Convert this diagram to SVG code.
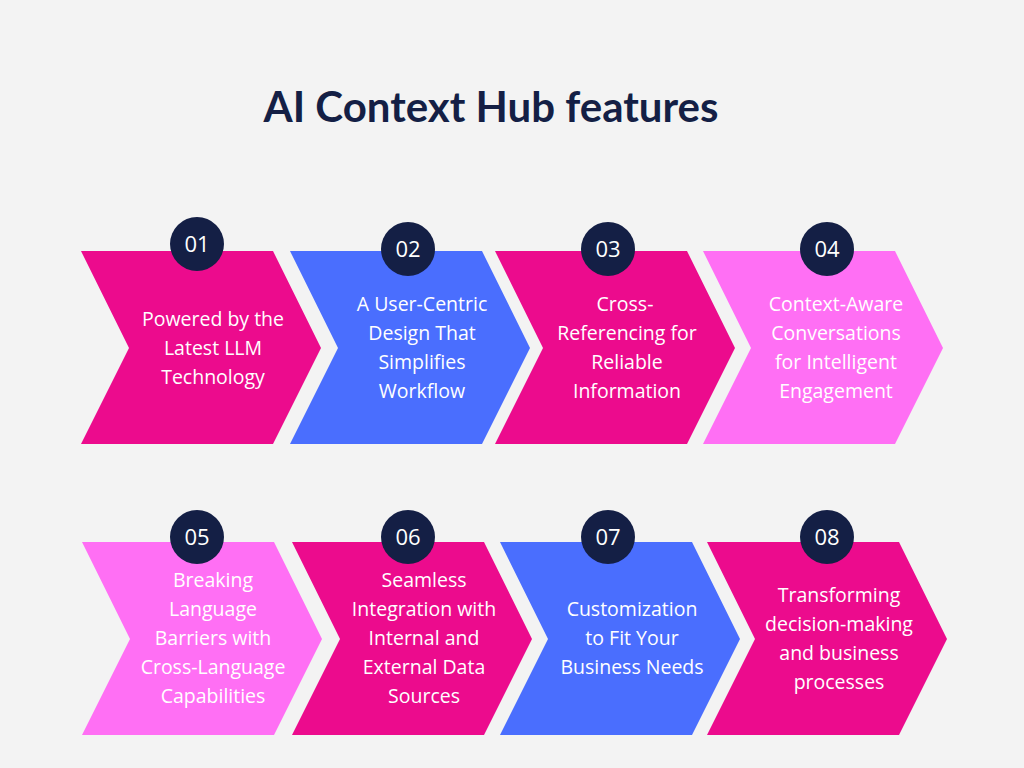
<svg xmlns="http://www.w3.org/2000/svg" width="1024" height="768" viewBox="0 0 1024 768">
<style>
.t{font-family:"Open Sans","Liberation Sans",sans-serif;font-size:19.5px;fill:#fff;text-anchor:middle}
.n{font-family:"Open Sans","Liberation Sans",sans-serif;font-size:22px;fill:#fff;text-anchor:middle}
.c{fill:#141F45}
.m{fill:#EC0B8D}.b{fill:#4A6EFE}.p{fill:#FF6FF4}
</style>
<defs><path id="ch" d="M0,0 H192 L240,97 L192,193 H0 L48,97 Z"/></defs>
<rect width="1024" height="768" fill="#F3F3F3"/>
<text x="491" y="122" font-family="Lato,'Open Sans',sans-serif" font-weight="bold" font-size="42" fill="#141F45" text-anchor="middle">AI Context Hub features</text>
<g id="n1"><use href="#ch" x="81" y="251" class="m"/><circle cx="197" cy="244" r="27" class="c"/><text class="n" x="197" y="252">01</text>
<text class="t" x="213" y="326">Powered by the</text><text class="t" x="213" y="355">Latest LLM</text><text class="t" x="213" y="384">Technology</text></g>
<g id="n2"><use href="#ch" x="290" y="251" class="b"/><circle cx="408" cy="249" r="27" class="c"/><text class="n" x="408" y="257">02</text>
<text class="t" x="422" y="311">A User-Centric</text><text class="t" x="422" y="340">Design That</text><text class="t" x="422" y="369">Simplifies</text><text class="t" x="422" y="398">Workflow</text></g>
<g id="n3"><use href="#ch" x="495" y="251" class="m"/><circle cx="608" cy="249" r="27" class="c"/><text class="n" x="608" y="257">03</text>
<text class="t" x="625" y="311">Cross-</text><text class="t" x="627" y="340">Referencing for</text><text class="t" x="627" y="369">Reliable</text><text class="t" x="627" y="398">Information</text></g>
<g id="n4"><use href="#ch" x="703" y="251" class="p"/><circle cx="827" cy="249" r="27" class="c"/><text class="n" x="827" y="257">04</text>
<text class="t" x="836" y="311">Context-Aware</text><text class="t" x="836" y="340">Conversations</text><text class="t" x="836" y="369">for Intelligent</text><text class="t" x="836" y="398">Engagement</text></g>
<g id="n5"><use href="#ch" x="82" y="542" class="p"/><circle cx="197" cy="537" r="27" class="c"/><text class="n" x="197" y="545">05</text>
<text class="t" x="213" y="587">Breaking</text><text class="t" x="213" y="616">Language</text><text class="t" x="213" y="645">Barriers with</text><text class="t" x="213" y="674">Cross-Language</text><text class="t" x="213" y="703">Capabilities</text></g>
<g id="n6"><use href="#ch" x="292" y="542" class="m"/><circle cx="408" cy="537" r="27" class="c"/><text class="n" x="408" y="545">06</text>
<text class="t" x="424" y="587">Seamless</text><text class="t" x="424" y="616">Integration with</text><text class="t" x="424" y="645">Internal and</text><text class="t" x="424" y="674">External Data</text><text class="t" x="424" y="703">Sources</text></g>
<g id="n7"><use href="#ch" x="500" y="542" class="b"/><circle cx="608" cy="537" r="27" class="c"/><text class="n" x="608" y="545">07</text>
<text class="t" x="632" y="616">Customization</text><text class="t" x="632" y="645">to Fit Your</text><text class="t" x="632" y="674">Business Needs</text></g>
<g id="n8"><use href="#ch" x="707" y="542" class="m"/><circle cx="827" cy="537" r="27" class="c"/><text class="n" x="827" y="545">08</text>
<text class="t" x="839" y="602">Transforming</text><text class="t" x="839" y="631">decision-making</text><text class="t" x="839" y="660">and business</text><text class="t" x="839" y="689">processes</text></g>
<g id="connectors"/>
</svg>
